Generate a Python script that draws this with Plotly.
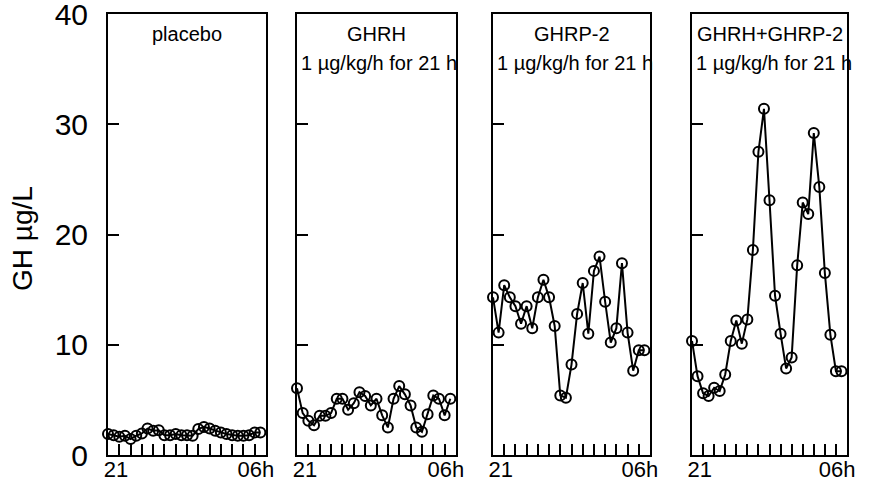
import plotly.graph_objects as go

# ---- data (GH, µg/L), 28 samples from 21h to 06h ----
placebo = [1.9, 1.8, 1.65, 1.75, 1.45, 1.75, 1.95, 2.4, 2.2, 2.25, 1.8, 1.8, 1.9, 1.8, 1.8,
           1.75, 2.35, 2.55, 2.4, 2.2, 2.05, 1.9, 1.8, 1.75, 1.75, 1.8, 2.05, 2.05]
ghrh = [6.05, 3.8, 3.1, 2.7, 3.55, 3.55, 3.8, 5.1, 5.1, 4.1, 4.7, 5.7, 5.35, 4.5, 5.1,
        3.6, 2.5, 5.1, 6.25, 5.5, 4.5, 2.5, 2.1, 3.7, 5.4, 5.1, 3.6, 5.1]
ghrp2 = [14.3, 11.1, 15.4, 14.3, 13.5, 11.9, 13.5, 11.5, 14.3, 15.9, 14.3, 11.7, 5.4, 5.2,
         8.2, 12.8, 15.6, 11.0, 16.7, 18.0, 13.9, 10.2, 11.5, 17.4, 11.1, 7.65, 9.5, 9.5]
combo = [10.35, 7.15, 5.6, 5.35, 6.1, 5.8, 7.3, 10.35, 12.2, 10.1, 12.3, 18.6, 27.5, 31.4,
         23.1, 14.45, 11.0, 7.85, 8.85, 17.2, 22.9, 21.85, 29.2, 24.3, 16.5, 10.9, 7.6, 7.6]
sample_index = list(range(28))

titles = ["placebo", "GHRH", "GHRP-2", "GHRH+GHRP-2"]
subtitles = ["", "1 µg/kg/h for 21 h", "1 µg/kg/h for 21 h", "1 µg/kg/h for 21 h"]
series = [placebo, ghrh, ghrp2, combo]

y_tickvals = [0, 10, 20, 30, 40]
y_ticktext = ["0", "10", "20", "30", "40"]
x_label_pos = [1.4, 26.2]
x_label_text = ["21", "06h"]
x_minor_ticks = [2, 4, 6, 8, 10, 12, 14, 16, 18, 20, 22, 24, 26]

W, H = 870, 485
panels_px = [(108, 266), (297, 456), (493, 650), (692, 847)]
y_dom = [1 - 455 / H, 1 - 14 / H]

fig = go.Figure()
annotations = []
FONT = "Liberation Sans, Arial, sans-serif"

for i, (vals, (x0, x1)) in enumerate(zip(series, panels_px)):
    n = i + 1
    xa = "x" if n == 1 else f"x{n}"
    ya = "y" if n == 1 else f"y{n}"
    fig.add_trace(go.Scatter(
        x=sample_index, y=vals, xaxis=xa, yaxis=ya, mode="lines+markers",
        line=dict(color="black", width=2),
        marker=dict(symbol="circle-open", size=10, color="black", line=dict(width=2)),
        cliponaxis=False, showlegend=False, hoverinfo="skip"))
    xkey = "xaxis" if n == 1 else f"xaxis{n}"
    ykey = "yaxis" if n == 1 else f"yaxis{n}"
    fig.layout[xkey] = dict(
        domain=[x0 / W, x1 / W], range=[0, 28], anchor=ya, automargin=False,
        showline=True, mirror=True, linecolor="black", linewidth=2,
        showgrid=False, zeroline=False,
        tickmode="array", tickvals=x_label_pos, ticktext=x_label_text, ticks="",
        tickfont=dict(family=FONT, size=22, color="black"), ticklabelstandoff=-6,
        ticklabeloverflow="allow",
        minor=dict(tickmode="array", tickvals=x_minor_ticks, ticks="inside",
                   ticklen=11, tickwidth=1.8, tickcolor="black", showgrid=False),
    )
    fig.layout[ykey] = dict(
        domain=y_dom, range=[0, 40], anchor=xa, automargin=False,
        showline=True, mirror=True, linecolor="black", linewidth=2,
        showgrid=False, zeroline=False,
        tickmode="array", tickvals=y_tickvals, ticktext=y_ticktext,
        ticks="inside", ticklen=11, tickwidth=1.8, tickcolor="black",
        showticklabels=(n == 1), ticklabelstandoff=12, ticklabeloverflow="allow",
        tickfont=dict(family=FONT, size=30, color="black"),
    )
    annotations.append(dict(
        x=(x0 + x1) / 2 / W, y=1 - 34 / H, xref="paper", yref="paper",
        text=titles[i], showarrow=False, xanchor="center", yanchor="middle",
        font=dict(family=FONT, size=20, color="black")))
    if subtitles[i]:
        annotations.append(dict(
            x=(x0 + 2) / W, y=1 - 63 / H, xref="paper", yref="paper",
            text=subtitles[i], showarrow=False, xanchor="left", yanchor="middle",
            font=dict(family=FONT, size=20, color="black")))

annotations.append(dict(
    x=22 / W, y=1 - 239 / H, xref="paper", yref="paper", text="GH µg/L",
    textangle=-90, showarrow=False, xanchor="center", yanchor="middle",
    font=dict(family=FONT, size=28, color="black")))

fig.update_layout(
    width=W, height=H, margin=dict(l=0, r=0, t=0, b=0, autoexpand=False),
    paper_bgcolor="white", plot_bgcolor="white",
    annotations=annotations,
)

fig.write_html("out.html", config={"displayModeBar": False})
